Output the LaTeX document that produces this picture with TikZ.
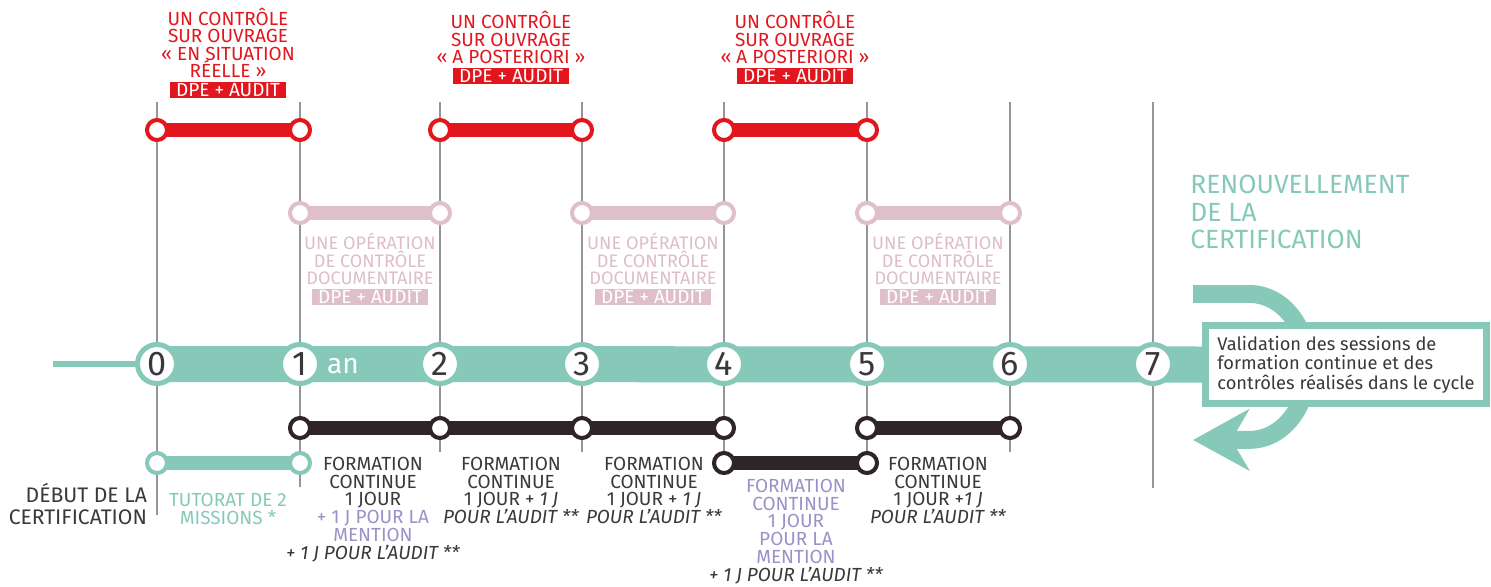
\documentclass[tikz,border=0pt]{standalone}
\usepackage{fontspec}
\setmainfont{Fira Sans}
\usetikzlibrary{positioning}
\usetikzlibrary{backgrounds}
\usetikzlibrary{arrows.meta}

\definecolor{certteal}{RGB}{134,201,185}
\definecolor{ctrlred}{RGB}{226,22,28}
\definecolor{docpink}{RGB}{224,192,200}
\definecolor{docpinktext}{RGB}{222,190,198}
\definecolor{formdark}{RGB}{46,36,41}
\definecolor{mentionpurple}{RGB}{156,144,200}
\definecolor{tickgray}{RGB}{150,150,150}
\definecolor{inkgray}{RGB}{58,56,58}

\begin{document}
\begin{tikzpicture}[x=0.02cm, y=-0.02cm,
  year/.style={circle, draw=certteal, line width=2.85pt, fill=white,
               minimum size=22.2pt, inner sep=0pt, text=inkgray,
               font=\fontsize{19.5}{19.5}\selectfont},
  stopdot/.style={circle, draw=#1, line width=2.3pt, fill=white,
                  minimum size=11.4pt, inner sep=0pt},
  leg/.style={line width=8.5pt, draw=#1},
  gridtick/.style={line width=1.1pt, draw=tickgray},
  redtxt/.style={text=ctrlred, align=center, inner sep=1pt,
                 font=\fontsize{10.8}{10}\selectfont},
  redtag/.style={fill=ctrlred, text=white, inner sep=0pt,
                 minimum width=66pt, minimum height=9pt,
                 font=\fontsize{10.8}{10}\selectfont},
  doctxt/.style={redtxt, text=docpinktext, font=\fontsize{10.3}{10}\selectfont},
  doctag/.style={redtag, fill=docpink},
  formtxt/.style={text=inkgray, align=center, inner sep=1pt, anchor=north,
                  font=\fontsize{10.8}{10.1}\selectfont},
  checkbox/.style={draw=certteal, line width=4pt, fill=white, align=left,
                   minimum width=160pt, minimum height=44.4pt, inner sep=0pt,
                   text=inkgray, font=\fontsize{10.4}{11.2}\selectfont},
  returnarrow/.style={line width=10.2pt, draw=certteal,
                      -{Stealth[length=31.9pt, width=34.7pt, inset=10pt]}}
]
\useasboundingbox (0,0) rectangle (1491,586);

% years on the axis
\foreach \px [count=\i from 0] in {157,300,440,582,724,867,1010,1153}
  \node[year] (t\i) at (\px,364) {\i};
\node[text=white, anchor=base, font=\fontsize{16}{16}\selectfont] (an) at (343,373) {an};
\coordinate (axisstart) at (53,364);

% controles sur ouvrage
\node[stopdot=ctrlred] (r0) at (157,130) {};
\node[stopdot=ctrlred] (r1) at (300,130) {};
\node[stopdot=ctrlred] (r2) at (440,130) {};
\node[stopdot=ctrlred] (r3) at (582,130) {};
\node[stopdot=ctrlred] (r4) at (724,130) {};
\node[stopdot=ctrlred] (r5) at (867,130) {};

\node[redtag] (tagA) at (228,90) {DPE + AUDIT};
\node[redtxt, above=1pt of tagA] (ctrlA) {UN CONTRÔLE\\SUR OUVRAGE\\«~EN SITUATION\\RÉELLE~»};
\node[redtag] (tagB) at (511,76) {DPE + AUDIT};
\node[redtxt, above=1pt of tagB] (ctrlB) {UN CONTRÔLE\\SUR OUVRAGE\\«~A POSTERIORI~»};
\node[redtag] (tagC) at (795,76) {DPE + AUDIT};
\node[redtxt, above=1pt of tagC] (ctrlC) {UN CONTRÔLE\\SUR OUVRAGE\\«~A POSTERIORI~»};

% controles documentaires
\node[stopdot=docpink] (p1) at (300,213) {};
\node[stopdot=docpink] (p2) at (440,213) {};
\node[stopdot=docpink] (p3) at (582,213) {};
\node[stopdot=docpink] (p4) at (724,213) {};
\node[stopdot=docpink] (p5) at (867,213) {};
\node[stopdot=docpink] (p6) at (1010,213) {};

\node[doctag] (docA) at (370,297) {DPE + AUDIT};
\node[doctxt, above=1pt of docA] {UNE OPÉRATION\\DE CONTRÔLE\\DOCUMENTAIRE};
\node[doctag] (docB) at (653,297) {DPE + AUDIT};
\node[doctxt, above=1pt of docB] {UNE OPÉRATION\\DE CONTRÔLE\\DOCUMENTAIRE};
\node[doctag] (docC) at (938,297) {DPE + AUDIT};
\node[doctxt, above=1pt of docC] {UNE OPÉRATION\\DE CONTRÔLE\\DOCUMENTAIRE};

% formation continue
\node[stopdot=formdark] (d1) at (300,428) {};
\node[stopdot=formdark] (d2) at (440,428) {};
\node[stopdot=formdark] (d3) at (582,428) {};
\node[stopdot=formdark] (d4) at (724,428) {};
\node[stopdot=formdark] (d5) at (867,428) {};
\node[stopdot=formdark] (d6) at (1010,428) {};
\node[stopdot=formdark] (e4) at (724,463) {};
\node[stopdot=formdark] (e5) at (867,463) {};
\node[stopdot=certteal] (g0) at (157,463) {};
\node[stopdot=certteal] (g1) at (300,463) {};

\node[formtxt, anchor=north east, align=right, font=\fontsize{12}{12.6}\selectfont]
  (start) at (149,481) {DÉBUT DE LA\\CERTIFICATION};
\node[formtxt, text=certteal] (tutor) at (228,491) {TUTORAT DE 2\\MISSIONS *};
\node[formtxt] (form1) at (373,455) {FORMATION\\CONTINUE\\1 JOUR\\
  {\color{mentionpurple}+ 1 J POUR LA}\\{\color{mentionpurple}MENTION}\\
  \textit{+ 1 J POUR L’AUDIT **}};
\node[formtxt] (form2) at (511,455) {FORMATION\\CONTINUE\\1 JOUR + \textit{1 J}\\
  \textit{POUR L’AUDIT **}};
\node[formtxt] (form3) at (654,455) {FORMATION\\CONTINUE\\1 JOUR + \textit{1 J}\\
  \textit{POUR L’AUDIT **}};
\node[formtxt, text=mentionpurple] (form4) at (796,477) {FORMATION\\CONTINUE\\1 JOUR\\
  POUR LA\\MENTION\\{\color{inkgray}\textit{+ 1 J POUR L’AUDIT **}}};
\node[formtxt] (form5) at (938,455) {FORMATION\\CONTINUE\\1 JOUR +\textit{1 J}\\
  \textit{POUR L’AUDIT **}};

% renouvellement
\node[text=certteal, align=left, anchor=west, inner sep=0pt,
      font=\fontsize{15}{15.5}\selectfont]
  (renew) at (1190,212) {RENOUVELLEMENT\\DE LA\\CERTIFICATION};
\node[checkbox] (valid) at (1346,364.5)
  {Validation des sessions de\\formation continue et des\\contrôles réalisés dans le cycle};
\coordinate (loopin) at (1193,294);
\coordinate (loopout) at (1193,440);

\begin{scope}[on background layer]
  \foreach \px/\bot in {157/515,300/487,440/452,582/452,724/470,867/470,1010/452,1153/488}
    \draw[gridtick] (\px,102) -- (\px,\bot);
  \draw[line width=3.8pt, certteal] (axisstart) -- (t0.center);
  \draw[line width=20.5pt, certteal] (t0.center) -- (valid.west);
  \draw[leg=ctrlred] (r0.center) -- (r1.center);
  \draw[leg=ctrlred] (r2.center) -- (r3.center);
  \draw[leg=ctrlred] (r4.center) -- (r5.center);
  \draw[leg=docpink] (p1.center) -- (p2.center);
  \draw[leg=docpink] (p3.center) -- (p4.center);
  \draw[leg=docpink] (p5.center) -- (p6.center);
  \draw[leg=formdark] (d1.center) -- (d4.center);
  \draw[leg=formdark] (d5.center) -- (d6.center);
  \draw[leg=formdark] (e4.center) -- (e5.center);
  \draw[leg=certteal] (g0.center) -- (g1.center);
  \draw[returnarrow] (loopin) -- ++(57,0)
    arc[start angle=90, end angle=-90, x radius=33pt, y radius=41.5pt] -- (loopout);
\end{scope}
\end{tikzpicture}
\end{document}
